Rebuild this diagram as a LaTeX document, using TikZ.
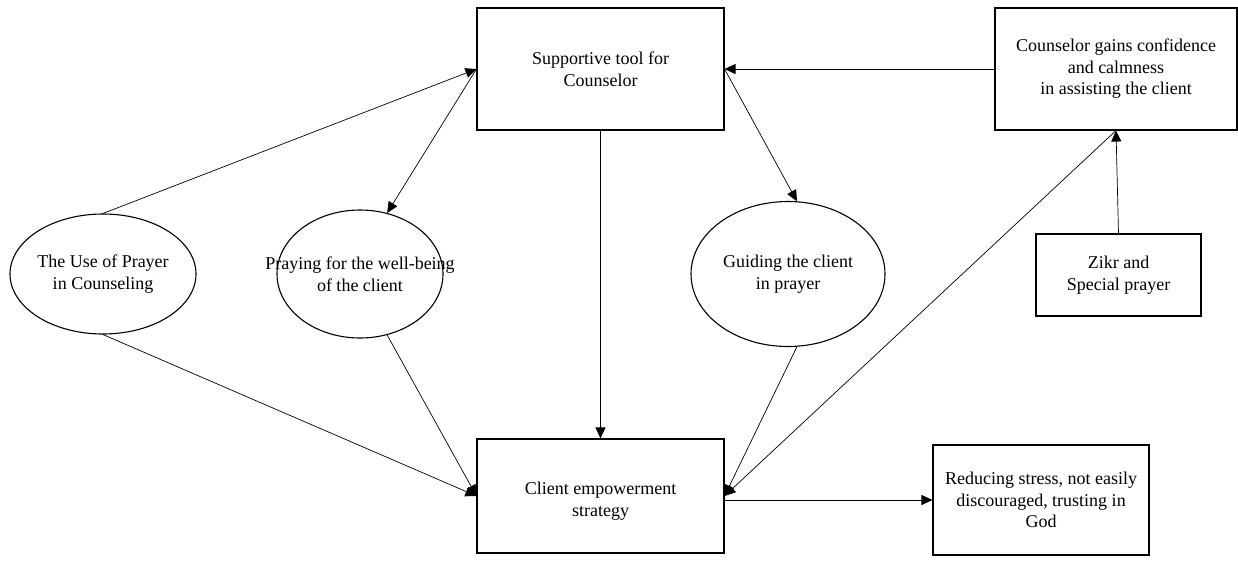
\documentclass[tikz,border=0pt]{standalone}
\usepackage{fontspec}
\setmainfont{Liberation Serif}
\usetikzlibrary{arrows.meta,shapes.geometric}
\begin{document}
\begin{tikzpicture}[x=1pt,y=-1pt,
  every node/.style={font=\fontsize{18}{21.5}\selectfont, align=center},
  box/.style={draw, line width=1.1pt, inner sep=0pt},
  oval/.style={draw, ellipse, line width=1.1pt, inner sep=0pt},
  txt/.style={inner sep=0pt},
  conn/.style={line width=0.7pt, -{Triangle[length=11pt,width=10pt]}}]
\useasboundingbox (0,0) rectangle (1238,560);
\node[box, minimum width=247pt, minimum height=122pt] (supp) at (600.5,69) {Supportive tool for\\Counselor};
\node[box, minimum width=242pt, minimum height=122pt] (gain) at (1116,69) {Counselor gains confidence\\and calmness\\in assisting the client};
\node[box, minimum width=165pt, minimum height=82pt] (zikr) at (1118.5,275) {Zikr and\\Special prayer};
\node[box, minimum width=247pt, minimum height=114pt] (client) at (600.5,496) {};
\node[txt] (clientt) at (600.5,501) {Client empowerment\\strategy};
\node[box, minimum width=216pt, minimum height=110pt] (reduce) at (1041,500) {Reducing stress, not easily\\discouraged, trusting in\\God};
\node[oval, minimum width=186pt, minimum height=120pt] (e1) at (103,274) {};
\node[txt] (e1t) at (e1.center) {The Use of Prayer\\in Counseling};
\node[oval, minimum width=166pt, minimum height=128pt] (e2) at (360,274) {};
\node[txt] (e2t) at (e2.center) {Praying for the well-being\\of the client};
\node[oval, minimum width=194pt, minimum height=145pt] (e3) at (788,274) {};
\node[txt] (e3t) at (e3.center) {Guiding the client\\in prayer};
\draw[conn] (e1.north) -- (supp.west);
\draw[conn] (supp.west) -- (e2.66);
\draw[conn] (e1.south) -- (client.west);
\draw[conn] (e2.-66) -- (client.west);
\draw[conn] (supp.south) -- (client.north);
\draw[conn] (supp.east) -- (e3.83);
\draw[conn] (gain.west) -- (supp.east);
\draw[conn] (zikr.north) -- (gain.south);
\draw[conn] (gain.south) -- (client.east);
\draw[conn] (e3.-83) -- (client.east);
\draw[conn] (reduce.west -| client.east) -- (reduce.west);
\end{tikzpicture}
\end{document}
